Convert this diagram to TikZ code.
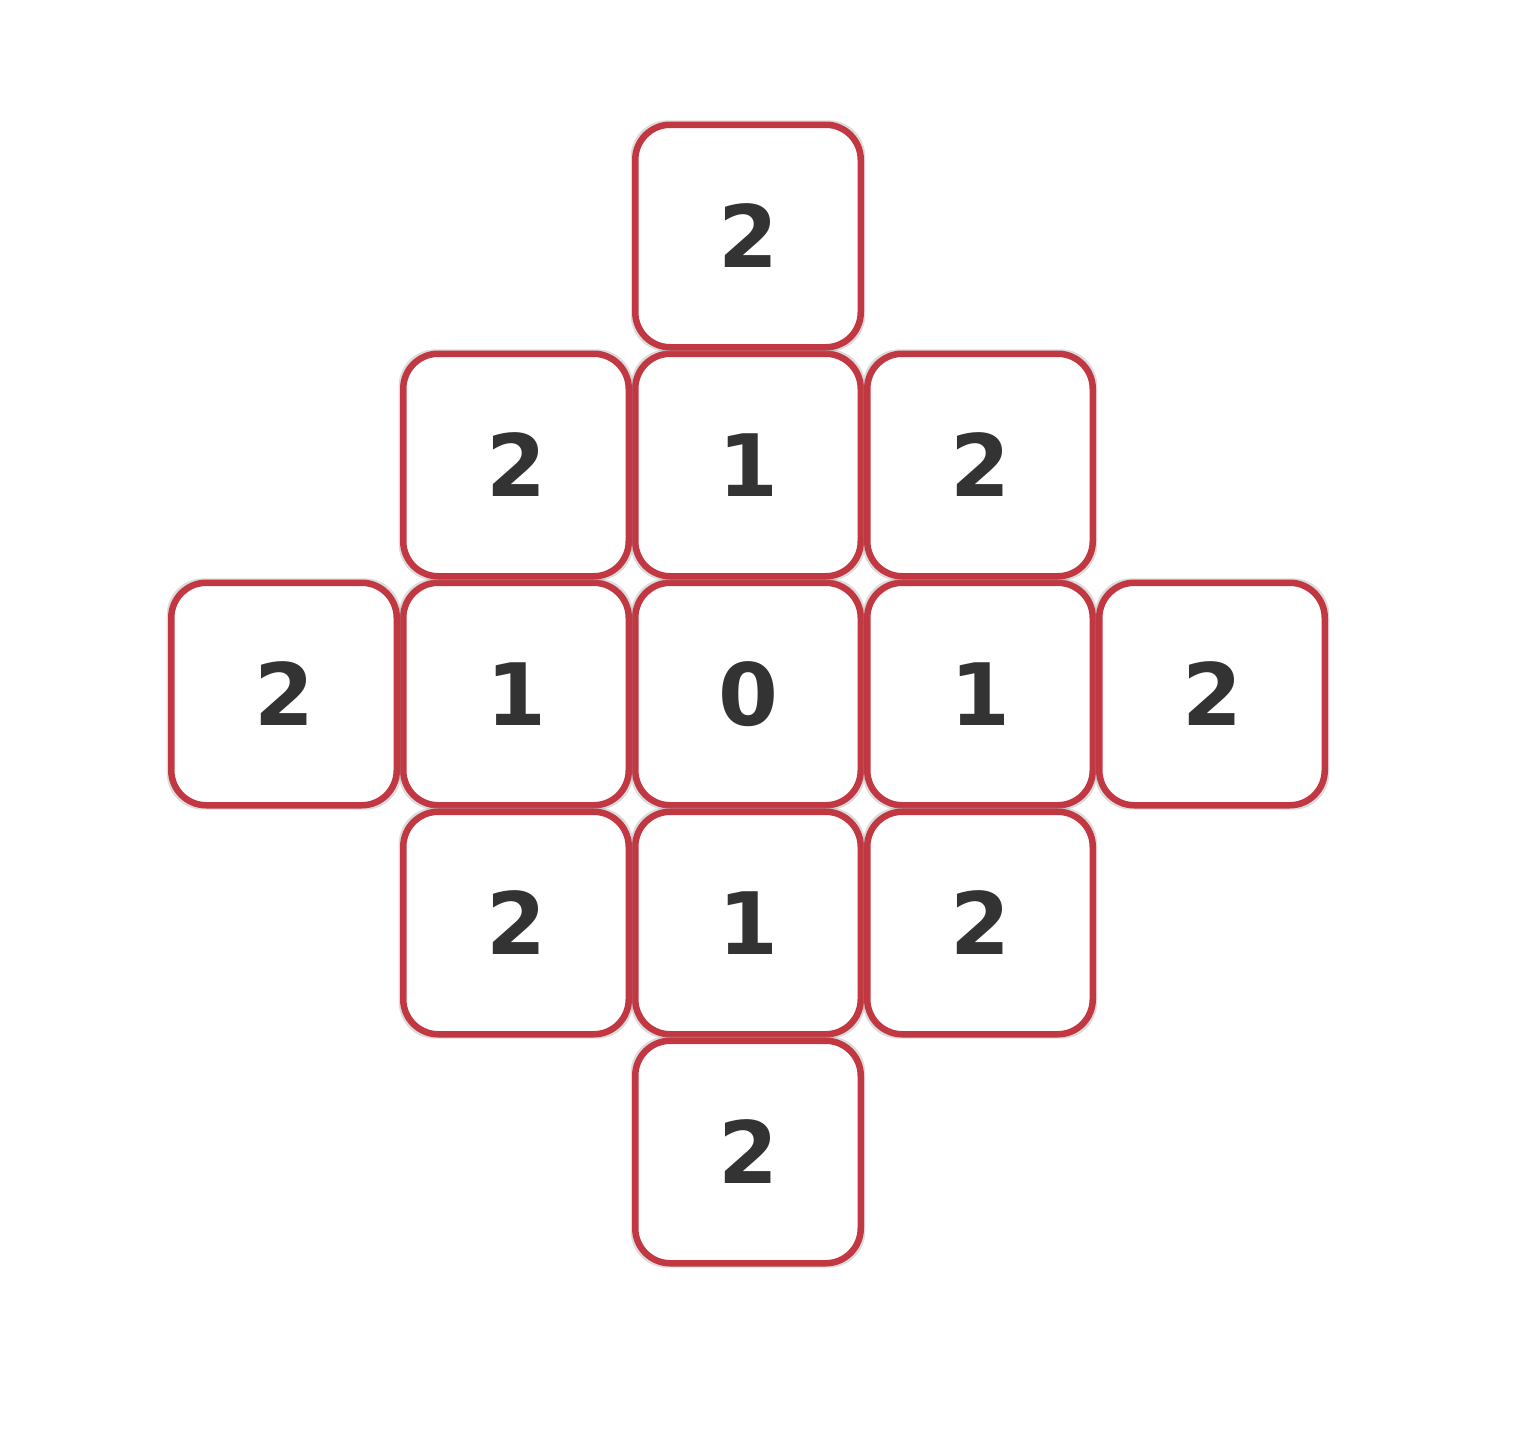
\documentclass[tikz,border=0pt]{standalone}
\usepackage{fontspec}
\setmainfont{DejaVu Sans}
\usetikzlibrary{positioning,shadows}
\definecolor{cellred}{RGB}{194,56,66}
\definecolor{digitgray}{RGB}{51,51,51}
\tikzset{%
  cell/.style={
    draw=cellred,
    line width=0.13cm,
    fill=white,
    rounded corners=0.7cm,
    minimum width=4.51cm,
    minimum height=4.45cm,
    inner sep=0pt,
    text=digitgray,
    font=\fontsize{49}{56}\selectfont\bfseries,
    general shadow={fill=black!45,opacity=0.3,shadow scale=1.04}
  },
}

\begin{document}
\begin{tikzpicture}[node distance=0mm]
        \useasboundingbox (0,0) rectangle (30.4,-28.68);

        \node[cell] at (14.96,-13.88) (mid) {0};
        \node[cell,above=of mid] (up) {1};
        \node[cell,below=of mid] (down) {1};
        \node[cell,left=of mid] (left) {1};
        \node[cell,right=of mid] (right) {1};

        \node[cell,above=of up] (upup) {2};
        \node[cell,below=of down] (downdown) {2};
        \node[cell,left=of left] (leftleft) {2};
        \node[cell,right=of right] (rightright) {2};

        \node[cell,left=of up] (upleft) {2};
        \node[cell,right=of up] (upright) {2};
        \node[cell,left=of down] (downleft) {2};
        \node[cell,right=of down] (downright) {2};
    \end{tikzpicture}
\end{document}
